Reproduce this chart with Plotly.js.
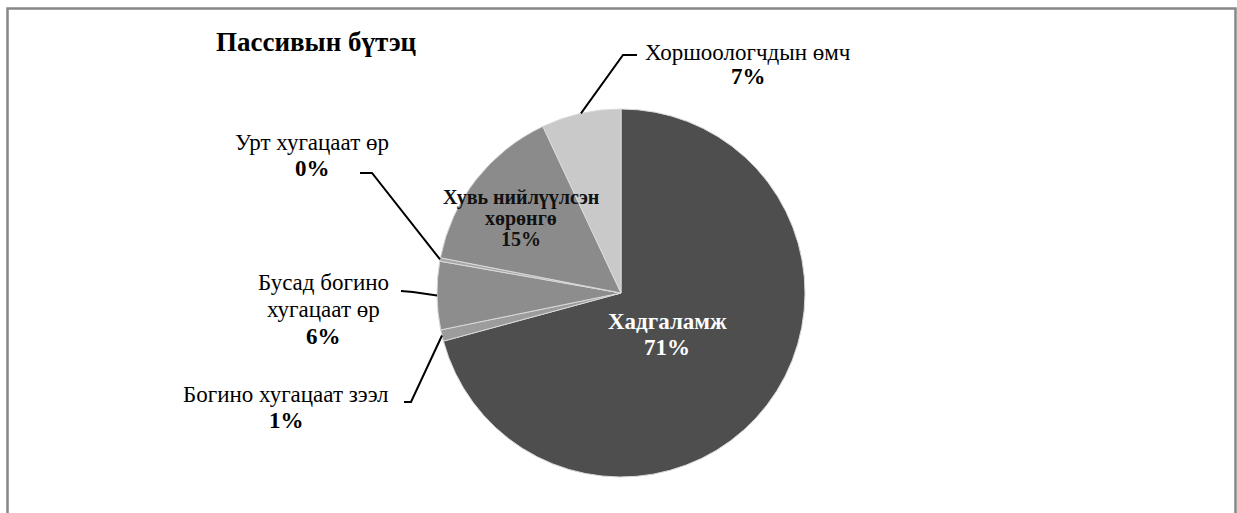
<!DOCTYPE html>
<html>
<head>
<meta charset="utf-8">
<script src="https://cdn.plot.ly/plotly-3.0.1.min.js"></script>
<style>html,body{margin:0;padding:0;background:#fff;}#chart{width:1237px;height:513px;}</style>
</head>
<body>
<div id="chart"></div>
<script>
// ---- data ----
const categories = ["Хадгаламж", "Богино хугацаат зээл", "Бусад богино хугацаат өр", "Урт хугацаат өр", "Хувь нийлүүлсэн хөрөнгө", "Хоршоологчдын өмч"];
const shares = [71, 1, 6, 0.3, 15, 7];
const labelLines = [
  ["Хадгаламж"],
  ["Богино хугацаат зээл"],
  ["Бусад богино", "хугацаат өр"],
  ["Урт хугацаат өр"],
  ["Хувь нийлүүлсэн", "хөрөнгө"],
  ["Хоршоологчдын өмч"]
];
const chartTitle = "Пассивын бүтэц";

// ---- styling / placement ----
const W = 1237, H = 513;
const sliceColors = ["#4e4e4e", "#9c9c9c", "#8d8d8d", "#a8a8a8", "#8b8b8b", "#c9c9c9"];
const cx = 621, cy = 293, R = 184;
// label placement: pixel centre of first line, line gap, font size, leader anchor/elbow (pixels)
const labelPos = [
  {x: 667, y: 321, gap: 26, size: 23, color: "#ffffff", bold: true, inside: true},
  {x: 286, y: 394, gap: 26, size: 23, anchor: [404, 402], elbow: [411, 402]},
  {x: 323, y: 282, gap: 27, size: 23, anchor: [401, 291], elbow: [413, 292]},
  {x: 312, y: 143, gap: 25, size: 23, anchor: [360, 173], elbow: [372, 173]},
  {x: 521, y: 197, gap: 21, size: 20, color: "#111111", bold: true, inside: true},
  {x: 748, y: 52, gap: 24, size: 23, anchor: [637, 55], elbow: [623, 55]}
];
const fontFam = "'Liberation Serif', 'Times New Roman', serif";

const px = x => x / W;
const py = y => 1 - y / H;

const total = shares.reduce((a, b) => a + b, 0);
const annotations = [];
const shapes = [];

annotations.push({
  xref: "paper", yref: "paper", x: px(214), y: py(42), xanchor: "left", yanchor: "middle",
  text: "<b>" + chartTitle + "</b>", showarrow: false,
  font: {family: fontFam, size: 27, color: "#000"}
});

let cum = 0;
shares.forEach((v, i) => {
  const mid = (cum + v / 2) / total * 2 * Math.PI; // clockwise from 12 o'clock
  cum += v;
  const lp = labelPos[i];
  const pct = Math.round(v / total * 100) + "%";
  const lines = labelLines[i];
  const col = lp.color || "#000000";
  lines.forEach((t, k) => {
    annotations.push({
      xref: "paper", yref: "paper", x: px(lp.x), y: py(lp.y + k * lp.gap),
      xanchor: "center", yanchor: "middle", showarrow: false,
      text: lp.bold ? "<b>" + t + "</b>" : t,
      font: {family: fontFam, size: lp.size, color: col}
    });
  });
  annotations.push({
    xref: "paper", yref: "paper", x: px(lp.x), y: py(lp.y + lines.length * lp.gap),
    xanchor: "center", yanchor: "middle", showarrow: false,
    text: "<b>" + pct + "</b>",
    font: {family: fontFam, size: lp.size, color: col}
  });
  if (!lp.inside) {
    const ex = cx + R * Math.sin(mid);
    const ey = cy - R * Math.cos(mid);
    shapes.push({
      type: "path", xref: "paper", yref: "paper",
      path: `M ${px(lp.anchor[0])} ${py(lp.anchor[1])} L ${px(lp.elbow[0])} ${py(lp.elbow[1])} L ${px(ex)} ${py(ey)}`,
      line: {color: "#000", width: 2}
    });
  }
});

// frame (open at the bottom)
shapes.push({
  type: "path", xref: "paper", yref: "paper",
  path: `M ${px(7.5)} ${py(520)} L ${px(7.5)} ${py(8.5)} L ${px(1235.5)} ${py(8.5)} L ${px(1235.5)} ${py(520)}`,
  line: {color: "#878787", width: 2.5}
});

const trace = {
  type: "pie",
  labels: categories,
  values: shares,
  sort: false,
  direction: "clockwise",
  rotation: 0,
  textinfo: "none",
  hoverinfo: "label+percent",
  marker: {colors: sliceColors, line: {color: "#d9d9d9", width: 1}},
  domain: {x: [px(cx - R), px(cx + R)], y: [py(cy + R), py(cy - R)]},
  showlegend: false
};

Plotly.newPlot("chart", [trace], {
  width: W, height: H,
  margin: {l: 0, r: 0, t: 0, b: 0},
  paper_bgcolor: "#ffffff",
  showlegend: false,
  annotations: annotations,
  shapes: shapes
}, {displayModeBar: false, staticPlot: true});
</script>
</body>
</html>
